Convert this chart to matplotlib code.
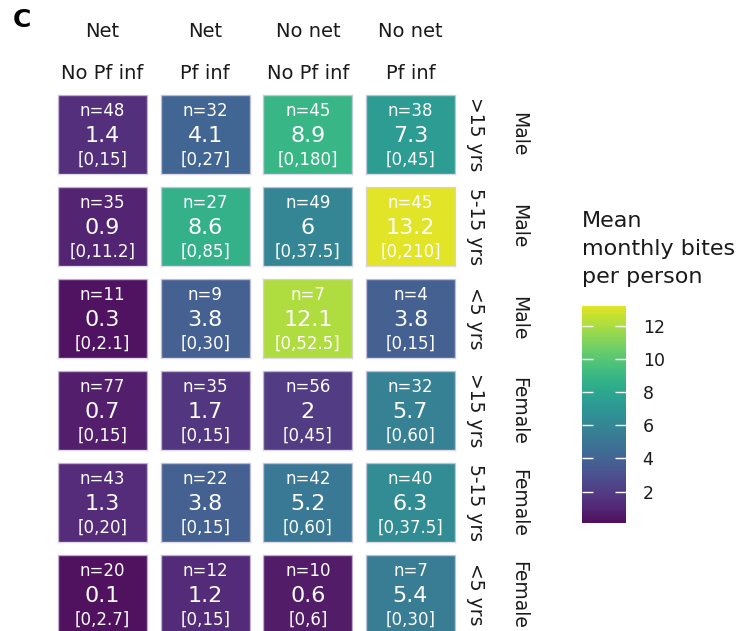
import matplotlib
matplotlib.use("Agg")
import matplotlib.pyplot as plt
import numpy as np
from matplotlib.colors import Normalize, ListedColormap

plt.rcParams['font.family'] = ['DejaVu Sans']

col_top = ["Net", "Net", "No net", "No net"]
col_bottom = ["No Pf inf", "Pf inf", "No Pf inf", "Pf inf"]
row_age = [">15 yrs", "5-15 yrs", "<5 yrs", ">15 yrs", "5-15 yrs", "<5 yrs"]
row_sex = ["Male", "Male", "Male", "Female", "Female", "Female"]

n_vals = [
    [48, 32, 45, 38],
    [35, 27, 49, 45],
    [11, 9, 7, 4],
    [77, 35, 56, 32],
    [43, 22, 42, 40],
    [20, 12, 10, 7],
]
means = [
    [1.4, 4.1, 8.9, 7.3],
    [0.9, 8.6, 6, 13.2],
    [0.3, 3.8, 12.1, 3.8],
    [0.7, 1.7, 2, 5.7],
    [1.3, 3.8, 5.2, 6.3],
    [0.1, 1.2, 0.6, 5.4],
]
ranges = [
    ["[0,15]", "[0,27]", "[0,180]", "[0,45]"],
    ["[0,11.2]", "[0,85]", "[0,37.5]", "[0,210]"],
    ["[0,2.1]", "[0,30]", "[0,52.5]", "[0,15]"],
    ["[0,15]", "[0,15]", "[0,45]", "[0,60]"],
    ["[0,20]", "[0,15]", "[0,60]", "[0,37.5]"],
    ["[0,2.7]", "[0,15]", "[0,6]", "[0,30]"],
]
mean_labels = [
    ["1.4", "4.1", "8.9", "7.3"],
    ["0.9", "8.6", "6", "13.2"],
    ["0.3", "3.8", "12.1", "3.8"],
    ["0.7", "1.7", "2", "5.7"],
    ["1.3", "3.8", "5.2", "6.3"],
    ["0.1", "1.2", "0.6", "5.4"],
]
cbar_ticks = [2, 4, 6, 8, 10, 12]

W, H = 748, 631
fig = plt.figure(figsize=(W / 100, H / 100), dpi=100)
vals = np.array(means, dtype=float)
norm = Normalize(vmin=vals.min(), vmax=vals.max())
base = plt.get_cmap('viridis')
cmap = ListedColormap(base(np.linspace(0.0, 0.95, 256)))
ALPHA = 0.94

nrows, ncols = vals.shape
axes = fig.subplots(nrows, ncols, gridspec_kw=dict(
    left=58 / W, right=455 / W, top=1 - 95 / H, bottom=1 - 634 / H,
    wspace=0.152, hspace=0.165))

TXT = '#1a1a1a'
im = None
for i in range(nrows):
    for j in range(ncols):
        ax = axes[i, j]
        im = ax.imshow([[vals[i, j]]], cmap=cmap, norm=norm, aspect='auto',
                       extent=(0, 1, 0, 1), alpha=ALPHA)
        ax.set_xticks([])
        ax.set_yticks([])
        for s in ax.spines.values():
            s.set_color((0.85, 0.82, 0.92, 0.8))
            s.set_linewidth(1.0)
        ax.text(0.5, 1 - 16 / 79, f"n={n_vals[i][j]}", transform=ax.transAxes,
                ha='center', va='center', color='white', fontsize=12)
        ax.text(0.5, 1 - 41 / 79, mean_labels[i][j], transform=ax.transAxes,
                ha='center', va='center', color='white', fontsize=16)
        ax.text(0.5, 1 - 65 / 79, ranges[i][j], transform=ax.transAxes,
                ha='center', va='center', color='white', fontsize=12)
        if i == 0:
            ax.annotate(col_top[j], xy=(0.5, 1), xycoords='axes fraction',
                        xytext=(0, 46), textcoords='offset points',
                        ha='center', va='center', fontsize=14, color=TXT)
            ax.annotate(col_bottom[j], xy=(0.5, 1), xycoords='axes fraction',
                        xytext=(0, 15.5), textcoords='offset points',
                        ha='center', va='center', fontsize=14, color=TXT)
        if j == ncols - 1:
            ax.annotate(row_age[i], xy=(1, 0.5), xycoords='axes fraction',
                        xytext=(14.5, 0), textcoords='offset points',
                        ha='center', va='center', rotation=-90,
                        fontsize=13.5, color=TXT)
            ax.annotate(row_sex[i], xy=(1, 0.5), xycoords='axes fraction',
                        xytext=(45.5, 0), textcoords='offset points',
                        ha='center', va='center', rotation=-90,
                        fontsize=13.5, color=TXT)

fig.text(22 / W, 1 - 20 / H, "C", fontsize=18, fontweight='bold',
         ha='center', va='center')

cax = fig.add_axes([582 / W, 1 - 523 / H, 44 / W, 217 / H])
cb = fig.colorbar(im, cax=cax, ticks=cbar_ticks)
cb.outline.set_visible(False)
cax.tick_params(axis='y', direction='in', color='white', length=8, width=1,
                left=True, right=True, labelleft=False, labelright=True,
                labelsize=12.5, pad=12, labelcolor=TXT)
fig.text(582 / W, 1 - 211 / H, "Mean\nmonthly bites\nper person",
         ha='left', va='top', fontsize=16, linespacing=1.5, color=TXT)

fig.savefig("out.png", dpi=100)
